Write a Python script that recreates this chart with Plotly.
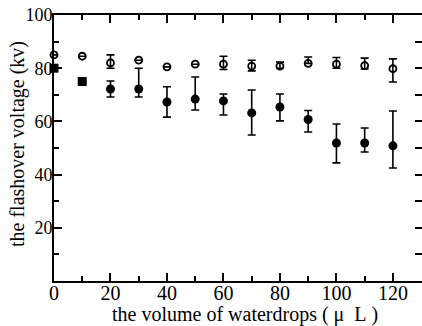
import plotly.graph_objects as go

volume = [0, 10, 20, 30, 40, 50, 60, 70, 80, 90, 100, 110, 120]

open_vals = [85, 84.5, 82, 83, 80.5, 81.5, 81.5, 80.8, 80.8, 81.8, 81.5, 81, 79.8]
open_plus = [0, 0, 3, 0, 0, 0, 3, 2.2, 1.5, 2.4, 2.5, 2.8, 3.7]
open_minus = [0, 0, 2, 0, 0, 0, 2, 1.8, 0.8, 0, 1.5, 1.3, 5]

filled_vals = [80, 75, 72.2, 72.2, 67.3, 68.4, 67.7, 63.2, 65.4, 60.7, 51.9, 51.9, 50.8]
filled_plus = [0, 0, 3, 7.8, 5.7, 8.3, 2.6, 8.6, 4.9, 3.4, 7.1, 5.6, 13.1]
filled_minus = [0, 0, 3, 3, 5.7, 4.1, 5.3, 8.3, 5.2, 4.7, 7.5, 3.4, 8.3]
filled_symbols = ["square", "square"] + ["circle"] * 11

FONT = "Liberation Serif"

fig = go.Figure()
fig.add_trace(go.Scatter(
    x=volume, y=open_vals, mode="markers",
    marker=dict(symbol="circle-open", size=7, color="black", line=dict(width=1.8, color="black")),
    error_y=dict(type="data", symmetric=False, array=open_plus, arrayminus=open_minus,
                 thickness=1.6, width=4, color="black"),
    showlegend=False, cliponaxis=False,
))
fig.add_trace(go.Scatter(
    x=volume, y=filled_vals, mode="markers",
    marker=dict(symbol=filled_symbols, size=9, color="black"),
    error_y=dict(type="data", symmetric=False, array=filled_plus, arrayminus=filled_minus,
                 thickness=1.6, width=4, color="black"),
    showlegend=False, cliponaxis=False,
))
# invisible trace to hold right-hand tick axis
fig.add_trace(go.Scatter(x=[0], y=[0], yaxis="y2", mode="markers",
                         marker=dict(opacity=0), showlegend=False, hoverinfo="skip"))

fig.update_layout(
    width=422, height=326,
    margin=dict(l=54, r=0, t=15, b=45),
    paper_bgcolor="white", plot_bgcolor="white",
    font=dict(family=FONT, size=18, color="black"),
    xaxis=dict(
        range=[0, 130.3], tickvals=[0, 20, 40, 60, 80, 100, 120],
        ticks="inside", ticklen=8, tickwidth=1.5, tickcolor="black",
        minor=dict(dtick=10, ticks="inside", ticklen=5, tickwidth=1.5, tickcolor="black", showgrid=False),
        showline=True, linewidth=1.8, linecolor="black", mirror="ticks",
        showgrid=False, zeroline=False, ticklabelstandoff=-7,
        tickfont=dict(family=FONT, size=20, color="black"),
    ),
    yaxis=dict(
        range=[0, 100], tickvals=[20, 40, 60, 80, 100],
        ticks="inside", ticklen=8, tickwidth=1.5, tickcolor="black",
        minor=dict(dtick=10, ticks="inside", ticklen=5, tickwidth=1.5, tickcolor="black", showgrid=False),
        showline=True, linewidth=1.8, linecolor="black", mirror=False,
        showgrid=False, zeroline=False, ticklabelstandoff=-4,
        tickfont=dict(family=FONT, size=18, color="black"),
    ),
    yaxis2=dict(
        range=[0, 100], overlaying="y", side="right", dtick=10,
        ticks="inside", ticklen=7, tickwidth=1.5, tickcolor="black",
        showticklabels=False, showline=False, showgrid=False, zeroline=False,
    ),
)

plot_w = 422 - 54
plot_h = 326 - 15 - 45
fig.add_annotation(text="the volume of waterdrops (\u00a0\u03bc\u00a0\u00a0L\u00a0)",
                   x=(245 - 54) / plot_w, y=(326 - 45 - 314) / plot_h,
                   xref="paper", yref="paper", showarrow=False,
                   xanchor="center", yanchor="middle",
                   font=dict(family=FONT, size=20, color="black"))
fig.add_annotation(text="the flashover voltage (kv)",
                   x=(17 - 54) / plot_w, y=(326 - 45 - 144) / plot_h,
                   xref="paper", yref="paper", showarrow=False, textangle=-90,
                   xanchor="center", yanchor="middle",
                   font=dict(family=FONT, size=20, color="black"))

fig.write_html("out.html")
